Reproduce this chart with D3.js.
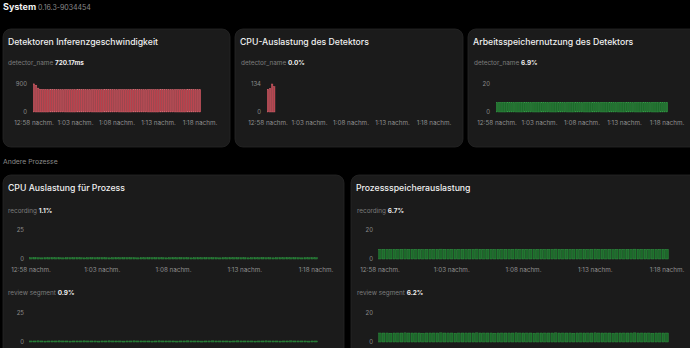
<!DOCTYPE html>
<html>
<head>
<meta charset="utf-8">
<script src="https://cdn.jsdelivr.net/npm/d3@7"></script>
<style>
  body { margin: 0; background: #000; }
  svg { display: block; font-family: Inter, "Noto Sans", sans-serif; }
</style>
</head>
<body>
<div id="chart"></div>
<script>
// tick labels of the time axis (12:58 -> 1:18, every 5 min)
const zeitLabels = ["12:58 nachm.", "1:03 nachm.", "1:08 nachm.", "1:13 nachm.", "1:18 nachm."];

// Detektoren Inferenzgeschwindigkeit (ms)
const inferenz = [
  905, 862, 768, 731, 726, 723, 722, 721, 720, 721,
  719, 720, 722, 720, 719, 721, 720, 720, 718, 721,
  720, 722, 719, 720, 721, 720, 719, 720, 722, 721,
  720, 719, 720, 721, 720, 718, 720, 721, 722, 720,
  719, 720, 721, 720, 720, 719, 721, 722, 720, 719,
  720, 721, 720, 719, 720, 722, 721, 720, 719, 720,
  721, 720, 718, 720, 721, 720, 722, 719, 720, 721,
  720, 719, 720, 721, 720, 722, 720, 719, 721, 720,
  720
];

// CPU-Auslastung des Detektors (nur die ersten Werte vorhanden)
const cpuDetektor = [109, 112, 134, 121];

// Arbeitsspeichernutzung des Detektors (%)
const speicherDetektor = [
  6.9, 6.9, 6.8, 6.9, 6.9, 6.9, 7.0, 6.9, 6.9, 6.8,
  6.9, 6.9, 6.9, 6.9, 7.0, 6.9, 6.9, 6.9, 6.8, 6.9,
  6.9, 6.9, 6.9, 7.0, 6.9, 6.9, 6.9, 6.9, 6.9, 6.8,
  6.9, 6.9, 6.9, 6.9, 6.9, 7.0, 6.9, 6.9, 6.9, 6.9,
  6.8, 6.9, 6.9, 6.9, 6.9, 6.9, 6.9, 7.0, 6.9, 6.9,
  6.9, 6.9, 6.8, 6.9, 6.9, 6.9, 6.9, 6.9, 7.0, 6.9,
  6.9, 6.9, 6.9, 6.9, 6.8, 6.9, 6.9, 6.9, 6.9, 6.9,
  7.0, 6.9, 6.9, 6.9, 6.9, 6.9, 6.8, 6.9, 6.9, 6.9,
  6.9
];

// CPU Auslastung für Prozess: recording / review segment (%)
const cpuRecording = [
  1.1, 1.2, 1.1, 1.0, 1.1, 1.1, 1.2, 1.1, 1.1, 1.0,
  1.1, 1.1, 1.1, 1.2, 1.1, 1.0, 1.1, 1.1, 1.1, 1.1,
  1.2, 1.1, 1.0, 1.1, 1.1, 1.1, 1.1, 1.2, 1.1, 1.1,
  1.0, 1.1, 1.1, 1.1, 1.2, 1.1, 1.1, 1.1, 1.0, 1.1,
  1.1, 1.1, 1.2, 1.1, 1.1, 1.0, 1.1, 1.1, 1.1, 1.1,
  1.2, 1.1, 1.1, 1.0, 1.1, 1.1, 1.1, 1.2, 1.1, 1.1,
  1.1, 1.0, 1.1, 1.1, 1.1, 1.2, 1.1, 1.1, 1.0, 1.1,
  1.1, 1.1, 1.2, 1.1, 1.1, 1.1, 1.0, 1.1, 1.1, 1.1,
  1.1
];
const cpuReview = [
  0.9, 0.9, 1.0, 0.9, 0.8, 0.9, 0.9, 0.9, 1.0, 0.9,
  0.9, 0.8, 0.9, 0.9, 0.9, 1.0, 0.9, 0.9, 0.9, 0.8,
  0.9, 0.9, 1.0, 0.9, 0.9, 0.9, 0.8, 0.9, 0.9, 1.0,
  0.9, 0.9, 0.9, 0.9, 0.8, 0.9, 1.0, 0.9, 0.9, 0.9,
  0.9, 0.8, 0.9, 0.9, 1.0, 0.9, 0.9, 0.9, 0.8, 0.9,
  0.9, 1.0, 0.9, 0.9, 0.9, 0.9, 0.8, 0.9, 1.0, 0.9,
  0.9, 0.9, 0.9, 0.8, 0.9, 0.9, 1.0, 0.9, 0.9, 0.9,
  0.8, 0.9, 0.9, 1.0, 0.9, 0.9, 0.9, 0.9, 0.8, 0.9,
  0.9
];

// Prozessspeicherauslastung: recording / review segment (%)
const speicherRecording = [
  6.7, 6.7, 6.7, 6.6, 6.7, 6.7, 6.7, 6.8, 6.7, 6.7,
  6.7, 6.7, 6.6, 6.7, 6.7, 6.7, 6.7, 6.8, 6.7, 6.7,
  6.7, 6.6, 6.7, 6.7, 6.7, 6.7, 6.7, 6.8, 6.7, 6.7,
  6.7, 6.7, 6.6, 6.7, 6.7, 6.7, 6.7, 6.7, 6.8, 6.7,
  6.7, 6.7, 6.7, 6.6, 6.7, 6.7, 6.7, 6.7, 6.7, 6.8,
  6.7, 6.7, 6.7, 6.7, 6.6, 6.7, 6.7, 6.7, 6.7, 6.7,
  6.8, 6.7, 6.7, 6.7, 6.7, 6.6, 6.7, 6.7, 6.7, 6.7,
  6.7, 6.8, 6.7, 6.7, 6.7, 6.7, 6.6, 6.7, 6.7, 6.7,
  6.7
];
const speicherReview = [
  6.2, 6.2, 6.2, 6.1, 6.2, 6.2, 6.2, 6.3, 6.2, 6.2,
  6.2, 6.2, 6.1, 6.2, 6.2, 6.2, 6.2, 6.3, 6.2, 6.2,
  6.2, 6.1, 6.2, 6.2, 6.2, 6.2, 6.2, 6.3, 6.2, 6.2,
  6.2, 6.2, 6.1, 6.2, 6.2, 6.2, 6.2, 6.2, 6.3, 6.2,
  6.2, 6.2, 6.2, 6.1, 6.2, 6.2, 6.2, 6.2, 6.2, 6.3,
  6.2, 6.2, 6.2, 6.2, 6.1, 6.2, 6.2, 6.2, 6.2, 6.2,
  6.3, 6.2, 6.2, 6.2, 6.2, 6.1, 6.2, 6.2, 6.2, 6.2,
  6.2, 6.3, 6.2, 6.2, 6.2, 6.2, 6.1, 6.2, 6.2, 6.2,
  6.2
];

const ROT = { fill: "#b83e49", stroke: "#d86a73" };
const GRUEN = { fill: "#1c6a2a", stroke: "#34a048" };

const svg = d3.select("#chart")
  .append("svg")
  .attr("width", 690)
  .attr("height", 348);

// Kopfzeile
svg.append("text").attr("x", 3).attr("y", 10)
  .attr("fill", "#f2f2f2").attr("font-size", 9).attr("font-weight", 700)
  .text("System");
svg.append("text").attr("x", 38).attr("y", 10)
  .attr("fill", "#8a8a8a").attr("font-size", 7)
  .text("0.16.3-9034454");
svg.append("text").attr("x", 3).attr("y", 164)
  .attr("fill", "#8a8a8a").attr("font-size", 6.8)
  .text("Andere Prozesse");

function karte(x, y, w, h, titel, titelY) {
  svg.append("rect")
    .attr("x", x).attr("y", y).attr("width", w).attr("height", h)
    .attr("rx", 8)
    .attr("fill", "#1b1b1b")
    .attr("stroke", "#262626").attr("stroke-width", 0.8);
  svg.append("text")
    .attr("x", x + 5).attr("y", titelY)
    .attr("fill", "#f0f0f0").attr("font-size", 8.7).attr("font-weight", 500)
    .text(titel);
}

function label(x, y, name, wert) {
  const t = svg.append("text").attr("x", x).attr("y", y).attr("font-size", 6.4);
  t.append("tspan").attr("fill", "#7c7c7c").text(name + " ");
  t.append("tspan").attr("fill", "#ededed").attr("font-weight", 700).text(wert);
}

// Balkendiagramm mit Zeitachse
function balken(daten, o) {
  const n = 81;
  const x = d3.scaleLinear().domain([0, n - 1]).range([o.x0, o.x1]);
  const y = d3.scaleLinear().domain([0, o.max]).range([o.y0, o.yTop]);
  const schritt = (o.x1 - o.x0) / (n - 1);
  const bw = schritt * 0.72;

  const g = svg.append("g");

  // y labels (nur 0 und max)
  g.selectAll(".ylab")
    .data([0, o.max])
    .join("text")
    .attr("x", o.x0 - 7)
    .attr("y", (d) => y(d) + 2.2)
    .attr("text-anchor", "end")
    .attr("fill", "#8a8a8a")
    .attr("font-size", 6)
    .text((d) => d);

  g.selectAll("rect")
    .data(daten)
    .join("rect")
    .attr("x", (_, i) => x(i) - bw / 2)
    .attr("width", bw)
    .attr("y", (d) => y(d))
    .attr("height", (d) => Math.max(y(0) - y(d), 1))
    .attr("fill", o.farbe.fill)
    .attr("stroke", o.farbe.stroke)
    .attr("stroke-width", 0.4);

  if (o.achse) {
    const tx = d3.scaleLinear().domain([0, zeitLabels.length - 1]).range([o.x0, o.x1]);
    g.selectAll(".xlab")
      .data(zeitLabels)
      .join("text")
      .attr("x", (_, i) => tx(i))
      .attr("y", o.y0 + 13)
      .attr("text-anchor", "middle")
      .attr("fill", "#8f8f8f")
      .attr("font-size", 6.3)
      .text((d) => d);
  }
}

// obere Reihe
karte(3, 29, 227, 118, "Detektoren Inferenzgeschwindigkeit", 44.5);
label(8, 64.5, "detector_name", "720.17ms");
balken(inferenz, { x0: 34, x1: 200, y0: 112, yTop: 84, max: 900, farbe: ROT, achse: true });

karte(235, 29, 228, 118, "CPU-Auslastung des Detektors", 44.5);
label(241, 64.5, "detector_name", "0.0%");
balken(cpuDetektor, { x0: 268, x1: 434, y0: 112, yTop: 84, max: 134, farbe: ROT, achse: true });

karte(468, 29, 240, 118, "Arbeitsspeichernutzung des Detektors", 44.5);
label(474, 64.5, "detector_name", "6.9%");
balken(speicherDetektor, { x0: 497, x1: 667, y0: 112, yTop: 84, max: 20, farbe: GRUEN, achse: true });

// untere Reihe
karte(3, 175, 341, 200, "CPU Auslastung für Prozess", 191);
label(8, 212.5, "recording", "1.1%");
balken(cpuRecording, { x0: 31, x1: 316, y0: 259, yTop: 230, max: 25, farbe: GRUEN, achse: true });
label(8, 295, "review segment", "0.9%");
balken(cpuReview, { x0: 31, x1: 316, y0: 342, yTop: 313, max: 25, farbe: GRUEN, achse: false });

karte(351, 175, 350, 200, "Prozessspeicherauslastung", 191);
label(357, 212.5, "recording", "6.7%");
balken(speicherRecording, { x0: 380, x1: 667, y0: 259, yTop: 230, max: 20, farbe: GRUEN, achse: true });
label(357, 295, "review segment", "6.2%");
balken(speicherReview, { x0: 380, x1: 667, y0: 342, yTop: 313, max: 20, farbe: GRUEN, achse: false });
</script>
</body>
</html>
